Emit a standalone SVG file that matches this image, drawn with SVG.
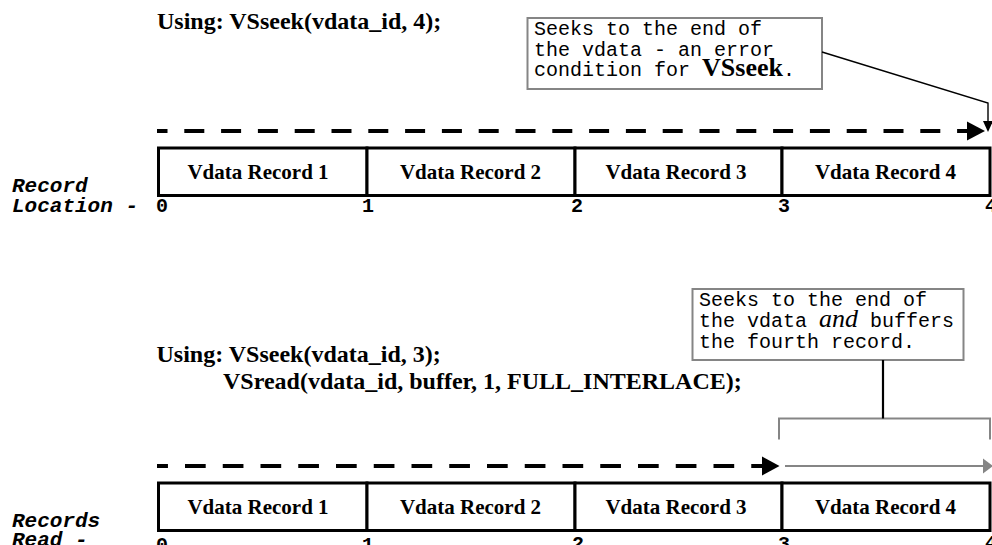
<svg xmlns="http://www.w3.org/2000/svg" width="992" height="545" viewBox="0 0 992 545">
<style>
.using{font-family:"Liberation Serif","Times New Roman",serif;font-weight:bold;font-size:24px;fill:#000}
.rec{fill:#fff;stroke:#000;stroke-width:3}
.rlabel{font-family:"Liberation Serif","Times New Roman",serif;font-weight:bold;font-size:21px;text-anchor:middle;fill:#000}
.mono{font-family:"Liberation Mono","Courier New",monospace;font-size:20px;fill:#000}
.axis{font-family:"Liberation Mono","Courier New",monospace;font-weight:bold;font-size:20px;fill:#000}
.axlab{font-family:"Liberation Mono","Courier New",monospace;font-weight:bold;font-style:italic;font-size:21px;fill:#000}
.cbox{fill:#fff;stroke:#858585;stroke-width:2}
.bold{font-family:"Liberation Serif","Times New Roman",serif;font-weight:bold;font-size:26px}
.ital{font-family:"Liberation Serif","Times New Roman",serif;font-style:italic;font-size:26px}
.dash{stroke:#000;stroke-width:4;fill:none}
.lead{stroke:#000;fill:none}
.gray{stroke:#858585;stroke-width:2;fill:none}
</style>
<rect width="992" height="545" fill="#fff"/>

<g id="title-top"><text class="using" x="157" y="29">Using: VSseek(vdata_id, 4);</text></g>
<g id="title-bottom">
<text class="using" x="156.5" y="361.5">Using: VSseek(vdata_id, 3);</text>
<text class="using" x="223" y="388.5">VSread(vdata_id, buffer, 1, FULL_INTERLACE);</text>
</g>

<g id="callout-top">
<rect class="cbox" x="527.5" y="18" width="294.5" height="71"/>
<text class="mono" x="534" y="35">Seeks to the end of</text>
<text class="mono" x="534" y="55.5">the vdata - an error</text>
<text class="mono" x="534" y="76">condition for <tspan class="bold">VSseek</tspan>.</text>
</g>

<g id="callout-bottom">
<rect class="cbox" x="692.5" y="289" width="271" height="71"/>
<text class="mono" x="699" y="306">Seeks to the end of</text>
<text class="mono" x="699" y="327">the vdata <tspan class="ital">and</tspan> buffers</text>
<text class="mono" x="699" y="348">the fourth record.</text>
</g>

<g id="records-top">
<g id="t-rec1"><rect class="rec" x="158.5" y="148" width="208.5" height="47.5"/><text class="rlabel" x="258" y="178.5">Vdata Record 1</text></g>
<g id="t-rec2"><rect class="rec" x="367" y="148" width="208" height="47.5"/><text class="rlabel" x="470.5" y="178.5">Vdata Record 2</text></g>
<g id="t-rec3"><rect class="rec" x="575" y="148" width="207" height="47.5"/><text class="rlabel" x="676" y="178.5">Vdata Record 3</text></g>
<g id="t-rec4"><rect class="rec" x="782" y="148" width="208" height="47.5"/><text class="rlabel" x="885.5" y="178.5">Vdata Record 4</text></g>
</g>

<g id="records-bottom">
<g id="b-rec1"><rect class="rec" x="158.5" y="483" width="208.5" height="47.5"/><text class="rlabel" x="258" y="513.5">Vdata Record 1</text></g>
<g id="b-rec2"><rect class="rec" x="367" y="483" width="208" height="47.5"/><text class="rlabel" x="470.5" y="513.5">Vdata Record 2</text></g>
<g id="b-rec3"><rect class="rec" x="575" y="483" width="207" height="47.5"/><text class="rlabel" x="676" y="513.5">Vdata Record 3</text></g>
<g id="b-rec4"><rect class="rec" x="782" y="483" width="208" height="47.5"/><text class="rlabel" x="885.5" y="513.5">Vdata Record 4</text></g>
</g>

<g id="axis-top">
<text class="axlab" x="12" y="192">Record</text>
<text class="axlab" x="12" y="211.5">Location -</text>
<text class="axis" x="156" y="211.5">0</text>
<text class="axis" x="362" y="211.5">1</text>
<text class="axis" x="571" y="211.5">2</text>
<text class="axis" x="778" y="211.5">3</text>
<text class="axis" x="985" y="211.5">4</text>
</g>

<g id="axis-bottom">
<text class="axlab" x="12" y="527">Records</text>
<text class="axlab" x="12" y="546">Read -</text>
<text class="axis" x="156" y="550.5">0</text>
<text class="axis" x="362" y="550.5">1</text>
<text class="axis" x="572" y="550">2</text>
<text class="axis" x="778" y="549.5">3</text>
<text class="axis" x="985" y="548.5">4</text>
</g>

<g id="connectors">
<line class="dash" x1="157" y1="131" x2="968" y2="131" stroke-dasharray="20 16.8" stroke-dashoffset="9.5"/>
<polygon points="967,121.5 985,131 967,140.5" fill="#000"/>
<polyline class="lead" stroke-width="1.4" points="822,52 988,103 988,121"/>
<polygon points="983,121 993,121 988,132" fill="#000"/>

<line class="dash" x1="157" y1="466" x2="762" y2="466" stroke-dasharray="20.7 17.05" stroke-dashoffset="9.75"/>
<polygon points="762,456.5 779.5,466 762,475.5" fill="#000"/>
<line class="gray" x1="785" y1="466" x2="984" y2="466"/>
<polygon points="983,458.5 993,466 983,473.5" fill="#858585"/>
<polyline class="gray" points="779,439.5 779,418.5 990,418.5 990,439.5"/>
<line class="lead" stroke-width="2.2" x1="883" y1="360" x2="883" y2="418.5"/>
</g>
</svg>
